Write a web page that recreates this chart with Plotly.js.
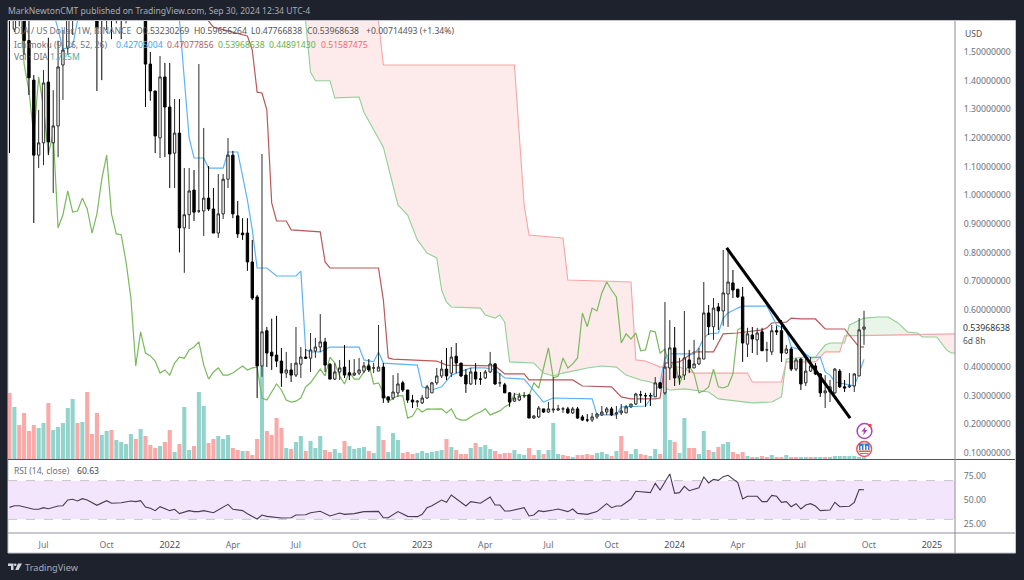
<!DOCTYPE html>
<html><head><meta charset="utf-8">
<script src="https://cdn.plot.ly/plotly-3.0.1.min.js"></script>
<style>html,body{margin:0;padding:0;background:#1e222d;overflow:hidden}#c{width:1024px;height:580px}</style>
</head><body><div id="c"></div>
<script>
var firstWeek = '2021-05-17';
var opens = [1.95,1.58,1.68,1.75,1.54,1.402,1.14,1.183,1.395,1.183,
1.242,1.455,1.514,1.7,1.9,1.85,1.95,1.8,1.75,1.8,
1.7,1.9,1.75,1.8,1.7,1.85,1.8,1.9,1.72,1.458,
1.364,1.2,1.413,1.308,1.147,1.217,.886,.932,1.018,.945,
.945,.99,.952,.868,.935,1.056,1.14,.928,.868,.868,
.767,.645,.404,.527,.452,.442,.421,.379,.39,.372,
.41,.435,.431,.456,.47,.488,.41,.358,.383,.4,
.38,.372,.379,.386,.404,.397,.386,.4,.296,.292,
.31,.345,.32,.285,.278,.275,.292,.31,.345,.369,
.393,.379,.438,.414,.372,.341,.383,.358,.362,.383,
.411,.345,.338,.31,.281,.285,.3,.303,.222,.226,
.254,.243,.25,.25,.254,.254,.24,.254,.226,.215,
.215,.226,.233,.243,.254,.236,.24,.24,.261,.271,
.303,.3,.3,.296,.345,.31,.397,.467,.362,.372,
.425,.397,.411,.428,.589,.541,.61,.596,.655,.694,
.672,.645,.48,.512,.495,.523,.46,.453,.527,.527,
.449,.463,.393,.428,.345,.386,.404,.376,.31,.313,
.31,.386,.331,.331,.334,.369,.53230269];
var closes = [1.70,1.75,1.95,1.54,1.41,1.14,1.183,1.392,1.186,1.242,
1.448,1.507,1.72,1.9,2.05,1.95,1.8,1.75,1.585,1.65,
1.85,1.75,1.8,1.7,1.85,1.8,1.9,1.72,1.458,1.364,
1.207,1.413,1.308,1.144,1.217,.886,.932,1.015,.941,.945,
.99,.952,.868,.935,1.056,1.14,.935,.865,.862,.767,
.641,.404,.523,.449,.439,.421,.379,.39,.372,.414,
.435,.431,.46,.47,.488,.407,.358,.383,.397,.372,
.372,.379,.39,.404,.39,.397,.4,.292,.285,.313,
.341,.32,.285,.278,.281,.292,.331,.345,.369,.393,
.369,.435,.414,.369,.341,.383,.358,.358,.383,.411,
.341,.345,.31,.278,.292,.299,.3,.222,.229,.257,
.243,.254,.253,.254,.254,.24,.254,.222,.215,.215,
.226,.236,.243,.254,.233,.24,.247,.261,.271,.306,
.303,.3,.3,.345,.327,.4,.467,.362,.369,.432,
.397,.411,.432,.589,.541,.606,.596,.659,.697,.669,
.645,.484,.516,.498,.519,.457,.46,.527,.523,.449,
.463,.393,.425,.341,.386,.404,.376,.31,.317,.331,
.393,.331,.327,.334,.376,.53,.53968638];
var highs = [2.2,1.9,2.0,1.9,1.62,1.42,1.298,1.437,1.55,1.367,
1.54,1.577,1.8,2.0,2.2,2.1,2.1,1.9,1.85,1.9,
2.0,2.0,1.9,1.9,2.0,2.0,2.0,2.0,1.9,1.5,
1.364,1.486,1.462,1.462,1.336,1.336,1.095,1.095,1.088,1.458,
1.235,1.102,1.025,1.074,1.074,1.2,1.155,.98,.92,.92,
.844,.652,1.144,.54,.569,.579,.467,.453,.414,.54,
.47,.463,.519,.502,.585,.502,.414,.414,.425,.477,
.425,.428,.432,.418,.428,.414,.547,.414,.296,.372,
.379,.352,.32,.303,.285,.303,.338,.348,.397,.425,
.467,.47,.484,.414,.393,.397,.414,.383,.39,.453,
.414,.379,.345,.313,.31,.31,.313,.303,.233,.264,
.254,.278,.365,.268,.261,.261,.261,.261,.233,.236,
.24,.24,.264,.261,.261,.264,.271,.268,.271,.31,
.317,.31,.31,.365,.348,.627,.564,.54,.432,.596,
.46,.495,.467,.697,.617,.641,.624,.809,.809,.739,
.672,.68,.537,.54,.537,.537,.488,.547,.544,.564,
.477,.47,.432,.432,.442,.435,.414,.379,.372,.355,
.397,.393,.355,.379,.379,.571,.59656264];
var lows = [1.147,1.57,1.59,1.49,1.35,.903,1.095,1.105,1.14,1.008,
1.133,1.333,1.49,1.56,1.65,1.62,1.7,1.7,1.364,1.402,
1.577,1.545,1.6,1.545,1.6,1.62,1.65,1.62,1.308,1.33,
1.147,1.13,1.133,1.025,1.025,.8,.729,.882,.91,.938,
.858,.945,.868,.851,.917,1.025,.92,.851,.844,.736,
.634,.292,.366,.4,.39,.4,.331,.362,.348,.365,
.362,.428,.383,.432,.452,.383,.358,.355,.355,.362,
.355,.369,.372,.379,.383,.379,.386,.275,.275,.285,
.296,.313,.275,.257,.261,.271,.289,.31,.338,.362,
.355,.365,.379,.365,.31,.338,.338,.338,.358,.379,
.338,.331,.31,.261,.278,.281,.292,.222,.219,.222,
.24,.24,.24,.247,.24,.236,.236,.219,.212,.208,
.208,.219,.229,.233,.229,.219,.233,.24,.257,.268,
.275,.261,.264,.296,.324,.303,.355,.334,.338,.355,
.379,.397,.407,.428,.512,.495,.53,.544,.54,.641,
.641,.418,.435,.449,.442,.457,.418,.442,.512,.418,
.445,.386,.386,.32,.334,.383,.372,.296,.257,.278,
.306,.327,.313,.327,.313,.369,.47766838];
var volumeM = [66,52,34,46,28,34,31,36,56,29,
32,36,51,60,36,37,67,25,46,24,
28,29,19,17,15,25,20,30,23,14,
11,13,17,29,7,15,52,9,13,67,
53,16,20,23,20,24,11,9,8,8,
4,20,93,28,24,41,31,11,10,17,
23,8,18,11,23,9,7,10,6,18,
13,10,11,12,8,6,33,19,7,26,
19,6,7,5,6,8,6,7,8,9,
20,12,9,5,5,11,16,12,14,10,
8,5,6,6,9,5,4,11,4,9,
5,9,36,5,4,3,2,4,4,5,
4,6,7,5,3,8,23,8,5,10,
5,4,3,10,5,71,19,17,6,41,
11,11,5,28,9,7,12,15,17,7,
5,7,3,2,2,3,2,4,2,2,
4,2,2,2,2,2,2,2,2,2,
3,3,3,3,3,2,1.725];
var volumeDir = 'rtrrrrttrt'+'ttttrtrrrt'+'trttttrtrr'+'rtrrtrttrt'+'trrtttrrtr'+'rrtrrrrtrt'+'trtttrrttr'+'ttttrttrtt'+'trrrtttttt'+'rtrrrtrttt'+'rrrrtttrrt'+'rtttrrtrrr'+'rtttrtrrtt'+'rrttrttrtt'+'rrttrtrttr'+'rrtrtrrtrr'+'trrttrttrt'+'ttttttt';

var conversionIdx = [0,8,9,10,11,13,14,15,33,34,35,36,37,38,40,41,44,45,47,49,50,51,53,55,59,60,61,62,64,66,72,73,75,76,77,84,85,87,89,91,95,98,100,102,106,110,112,120,121,125,126,131,133,134,135,136,141,142,143,144,146,147,148,150,151,156,158,160,161,163,165,167,168,169,170,173,174,175,176];
var conversionVal = [1.95,1.9,1.64,1.58,1.51,1.52,1.61,1.85,2.0,1.9,1.612,1.39,1.2,1.13,1.13,1.095,1.095,1.151,1.151,.983,.879,.746,.746,.718,.718,.735,.46,.453,.453,.47,.47,.425,.418,.453,.414,.407,.331,.32,.331,.372,.397,.397,.39,.362,.358,.278,.292,.289,.233,.233,.261,.264,.313,.345,.432,.446,.446,.467,.502,.516,.519,.571,.589,.606,.613,.613,.547,.53,.47,.46,.432,.435,.383,.372,.348,.338,.334,.379,.42705004];
var baseIdx = [30,41,42,49,50,51,52,53,54,55,57,58,64,65,66,76,77,78,79,88,90,100,102,106,107,116,118,124,126,128,133,134,135,138,141,145,147,150,155,156,157,160,161,163,166,168,172,175,176];
var baseVal = [2.0,1.608,1.587,1.556,1.507,1.36,1.357,1.298,.973,.91,.91,.879,.872,.767,.746,.746,.634,.432,.428,.421,.407,.404,.376,.376,.355,.355,.334,.331,.296,.289,.289,.292,.414,.418,.453,.453,.516,.519,.53,.537,.554,.557,.571,.568,.568,.533,.533,.47,.47077856];
var spanAIdx = [58,60,61,62,63,66,67,72,73,75,77,80,82,84,86,88,89,90,91,97,98,100,101,102,103,108,110,112,114,119,122,125,127,130,132,135,136,139,141,144,146,149,153,157,159,160,164,166,168,169,172,173,176,179,181,183,185,187,188,191,193,194,195];
var spanAVal = [2.4,1.9,1.605,1.43,1.4,1.4,1.34,1.343,1.29,1.228,1.168,.966,.931,.844,.798,.781,.669,.627,.61,.606,.582,.571,.582,.557,.418,.414,.379,.369,.379,.397,.404,.4,.372,.355,.348,.327,.32,.324,.32,.313,.289,.282,.275,.278,.296,.428,.435,.435,.477,.484,.484,.547,.571,.575,.575,.554,.522,.519,.505,.505,.46,.449,.44891430];
var spanBIdx = [58,76,77,104,106,107,114,115,128,129,131,134,138,141,152,153,159,160,166,168,171,172,195];
var spanBVal = [2.6,1.608,1.455,1.455,.966,.861,.851,.704,.697,.425,.421,.4,.4,.379,.379,.348,.348,.418,.418,.453,.453,.509,.51587475];
var rsiIdx = [0,1,2,3,5,6,7,8,9,10,11,12,13,14,15,16,18,19,20,21,23,25,26,27,28,29,30,31,33,34,35,37,38,39,40,42,45,46,48,49,51,52,53,56,58,59,61,62,64,66,68,69,71,73,76,77,78,80,82,84,85,86,87,89,90,91,94,95,97,99,100,101,102,103,105,106,107,108,109,110,112,113,115,116,117,119,121,123,124,125,126,128,129,132,133,134,136,137,138,139,140,142,143,144,145,146,147,148,150,151,152,154,155,156,157,158,159,160,161,162,163,164,165,166,167,169,170,171,173,174,175,176];
var rsiVal = [42.4,44.1,44.1,43.1,40.4,40.4,42.1,41,42.1,43.8,44.1,50,50.7,49,51.4,50,44.5,46.6,49.3,46.6,47.2,49,48.3,49.3,42.8,41.4,39,43.1,39,40.4,35.9,39,38,38,39,36.9,45.5,40.4,39,35.9,30.4,34.5,33.1,31.4,31.7,34.5,34.8,36.9,38.3,33.5,36.6,35.2,35.9,38,38.3,31.7,31.7,38,33.1,32.8,35.2,42.1,44.1,50,47.6,55.2,43.8,48.3,46.6,53.1,44.8,44.8,38.6,38.6,41.4,42.1,33.5,34.5,39,38,39.7,40.7,38,40.7,36.2,35.2,38,46.2,42.1,43.8,43.8,51,59,57.6,67.2,60.3,76.9,56.9,57.6,64.1,59.6,62.7,73.8,67.6,71.4,70.3,74.1,75.5,67.9,51,53.8,53.8,48.3,48.3,54.8,53.8,47.6,48.3,43.1,46.2,40.7,44.8,46.2,43.8,39,39.7,47.6,43.1,43.5,47.6,60.7,60.63];
var trendDates = ['2024-03-16','2024-09-10'];
var trendPrices = [0.816,0.222];
var priceTicks = [0.1,0.2,0.3,0.4,0.6,0.7,0.8,0.9,1.0,1.1,1.2,1.3,1.4,1.5];
var rsiTicks = [25,50,75];
var dateTicks = ['2021-07-05','2021-10-04','2022-01-03','2022-04-04','2022-07-04','2022-10-03','2023-01-02','2023-04-03','2023-07-03','2023-10-02','2024-01-01','2024-04-01','2024-07-01','2024-10-07','2025-01-06'];
var dateLabels = ['Jul','Oct','2022','Apr','Jul','Oct','2023','Apr','Jul','Oct','2024','Apr','Jul','Oct','2025'];
var clusterCross = [[159.84,0.407],[187.7,0.509]];

var FONT = '"Noto Sans", "Open Sans", sans-serif';
var W = 1024, H = 580, L = 8, R = 955, T = 21, B = 533;
function px(x){ return (x-L)/(R-L); }
function py(y){ return (B-y)/(B-T); }
function dateAt(i){
  var t = Date.parse(firstWeek+'T00:00:00Z') + i*7*86400000;
  return new Date(t).toISOString().slice(0,16).replace('T',' ');
}
function dates(idx){ return idx.map(dateAt); }
var allIdx = opens.map(function(_,i){return i;});
var weekDates = dates(allIdx);

function cloudPoly(lo, hi, pre, post){
  var xs = [], ys = [];
  if(pre){ xs.push(dateAt(pre[0])); ys.push(pre[1]); }
  spanAIdx.forEach(function(d,k){ if(d>=lo && d<=hi){ xs.push(dateAt(d)); ys.push(spanAVal[k]); } });
  if(post){ xs.push(dateAt(post[0])); ys.push(post[1]); }
  for(var k=spanBIdx.length-1;k>=0;k--){
    var d = spanBIdx[k];
    if(d>=lo && d<=hi){ xs.push(dateAt(d)); ys.push(spanBVal[k]); }
  }
  return {x:xs, y:ys};
}
var PINK = 'rgba(247,170,170,0.24)', GREEN = 'rgba(140,205,140,0.2)';
function cloudTrace(p, col){
  return {type:'scatter', mode:'lines', x:p.x, y:p.y, fill:'toself', fillcolor:col,
          line:{width:0,color:'rgba(0,0,0,0)'}, yaxis:'y2', hoverinfo:'skip', showlegend:false};
}
function lineTrace(x,y,col,w,axis){
  return {type:'scatter', mode:'lines', x:x, y:y, line:{color:col,width:w,shape:'linear'},
          yaxis:axis, hoverinfo:'skip', showlegend:false};
}
var lagIdx = [], lagVal = [];
closes.forEach(function(c,i){ if(i>=25){ lagIdx.push(i-25); lagVal.push(c); } });

var traces = [
  {type:'bar', x:weekDates, y:volumeM, width:7*86400000*0.84, yaxis:'y',
   marker:{color:volumeDir.split('').map(function(d){return d==='r'?'#f9a9a7':'#92d3cc';}), line:{width:0}},
   hoverinfo:'skip', showlegend:false},
  cloudTrace(cloudPoly(0,159,null,clusterCross[0]), PINK),
  cloudTrace(cloudPoly(160,187,clusterCross[0],clusterCross[1]), GREEN),
  cloudTrace(cloudPoly(188,195,clusterCross[1],null), PINK),
  lineTrace(dates(spanBIdx), spanBVal, '#f6a5a5', 1.1, 'y2'),
  lineTrace(dates(spanAIdx), spanAVal, '#93cf96', 1.1, 'y2'),
  lineTrace(dates(lagIdx), lagVal, '#7ab95e', 1.2, 'y2'),
  lineTrace(dates(baseIdx), baseVal, '#b9595a', 1.2, 'y2'),
  lineTrace(dates(conversionIdx), conversionVal, '#5db3f5', 1.2, 'y2'),
  {type:'candlestick', x:weekDates, open:opens, high:highs, low:lows, close:closes, yaxis:'y4',
   increasing:{line:{color:'#2b2b2b',width:1},fillcolor:'#ffffff'},
   decreasing:{line:{color:'#000000',width:1},fillcolor:'#000000'},
   hoverinfo:'skip', showlegend:false},
  {type:'scatter', mode:'lines', x:trendDates, y:trendPrices, yaxis:'y4',
   line:{color:'#000000',width:3}, hoverinfo:'skip', showlegend:false},
  lineTrace(dates(rsiIdx), rsiVal, '#473c52', 1.1, 'y3')
];

function txt(x,y,s,col,size,anchor){
  return {xref:'paper',yref:'paper',x:px(x),y:py(y),text:s,showarrow:false,
    xanchor:anchor||'left',yanchor:'middle',font:{family:FONT,size:size||8.6,color:col||'#787b86'},
    borderpad:0,borderwidth:0};
}
var GREY='#6d707b', LEG=8.6;
var annotations = [
  txt(7.5,11,'MarkNewtonCMT published on TradingView.com, Sep 30, 2024 12:34 UTC-4','#a9acb6',8.6),
  txt(14,31,'DIA / US Dollar, 1W, BINANCE',GREY,LEG),
  txt(136,31,'O0.53230269','#555',LEG),
  txt(194,31,'H0.59656264','#555',LEG),
  txt(251,31,'L0.47766838','#555',LEG),
  txt(307,31,'C0.53968638','#555',LEG),
  txt(366,31,'+0.00714493 (+1.34%)','#555',LEG),
  txt(14,44.5,'Ichimoku (9, 26, 52, 26)',GREY,LEG),
  txt(116,44.5,'0.42705004','#42a5f5',LEG),
  txt(167,44.5,'0.47077856','#b9595a',LEG),
  txt(218,44.5,'0.53968638','#66b04a',LEG),
  txt(269,44.5,'0.44891430','#66b04a',LEG),
  txt(321,44.5,'0.51587475','#f06a6a',LEG),
  txt(14,57,'Vol \u00b7 DIA',GREY,LEG),
  txt(50,57,'1.725M','#3fb5a8',LEG),
  txt(14,471,'RSI (14, close)',GREY,LEG),
  txt(77,471,'60.63','#444',LEG),
  txt(965,33,'USD','#555',8.5),
  txt(963,328,'0.53968638','#333',8.7),
  txt(963,340,'6d 8h','#555',8.5),
  txt(25,567,'TradingView','#a9acb6',9.2)
];
var LOGO='#d1d4dc';
function poly(pts){ return 'M '+pts.map(function(p){return px(p[0])+' '+py(p[1]);}).join(' L ')+' Z'; }
function rectPx(x0,y0,x1,y1,fill,line,lw,layer){
  return {type:'rect',xref:'paper',yref:'paper',x0:px(x0),x1:px(x1),y0:py(y0),y1:py(y1),
    fillcolor:fill,line:{color:line||'rgba(0,0,0,0)',width:lw||0},layer:layer||'above'};
}
function circlePx(cx,cy,r,fill,line,lw){
  return {type:'circle',xref:'paper',yref:'paper',x0:px(cx-r),x1:px(cx+r),y0:py(cy-r),y1:py(cy+r),
    fillcolor:fill,line:{color:line||'rgba(0,0,0,0)',width:lw||0},layer:'above'};
}
function pathPx(pts,fill){
  return {type:'path',xref:'paper',yref:'paper',path:poly(pts),fillcolor:fill,line:{width:0},layer:'above'};
}
var shapes = [
  rectPx(8,20.5,1015.5,553,'#ffffff','#c4c6cc',1,'below'),
  {type:'rect',xref:'paper',yref:'y3',x0:0,x1:1,y0:30,y1:70,fillcolor:'#f3e6fc',line:{width:0},layer:'below'},
  {type:'line',xref:'paper',yref:'y3',x0:0,x1:1,y0:70,y1:70,line:{color:'#c6c4cc',width:1,dash:'dash'},layer:'below'},
  {type:'line',xref:'paper',yref:'y3',x0:0,x1:1,y0:30,y1:30,line:{color:'#c6c4cc',width:1,dash:'dash'},layer:'below'},
  {type:'line',xref:'paper',yref:'paper',x0:px(8),x1:px(1015),y0:py(459.5),y1:py(459.5),line:{color:'#50535e',width:1},layer:'above'},
  {type:'line',xref:'paper',yref:'paper',x0:px(8),x1:px(1015),y0:py(533),y1:py(533),line:{color:'#b4b6bc',width:1.5},layer:'above'},
  {type:'line',xref:'paper',yref:'paper',x0:px(955),x1:px(955),y0:py(21),y1:py(553),line:{color:'#8a8d96',width:1},layer:'above'},
  pathPx([[8,563.5],[13.5,563.5],[13.5,570],[11,570],[11,566],[8,566]],LOGO),
  circlePx(15.2,564.8,1.3,LOGO),
  pathPx([[18,563.5],[22,563.5],[18.5,570],[15.2,570]],LOGO),
  circlePx(864.5,431,7.4,'#ffffff','#ab47bc',1.5),
  pathPx([[865.5,426.5],[861.5,431.5],[864,431.5],[863,435.5],[867.5,430],[865,430]],'#ab47bc'),
  circlePx(870,425.5,1.7,'#f44336'),
  circlePx(864.2,449,7.4,'#ffffff','#ef5350',1.5),
  rectPx(859,443.5,869.5,450,'#2f7fd6'),
  rectPx(860.5,446,862,450,'#ffffff'),
  rectPx(863.5,444.5,865,450,'#ffffff'),
  rectPx(866.5,446,868,450,'#ffffff'),
  rectPx(858.5,450.5,870,452,'#ef5350'),
  rectPx(860,453,868.5,454,'#ef5350')
];

var tickF = {family:FONT,size:8.7,color:'#6d707b'};
var mainBottom = (B-459)/(B-T);
var priceRange = [0.1-6/286.4, 0.1+432/286.4];
var layout = {
  width:W, height:H, autosize:false,
  margin:{l:L,r:W-R,t:T,b:H-B,pad:0},
  paper_bgcolor:'#1e222d', plot_bgcolor:'#ffffff',
  showlegend:false, dragmode:false, barmode:'overlay',
  xaxis:{type:'date',anchor:'y3',range:['2021-05-14 19:00','2025-02-08 05:00'],
    showgrid:false,zeroline:false,showline:false,
    tickmode:'array',tickvals:dateTicks,
    ticktext:dateLabels.map(function(t){return /^20/.test(t)?'<span style="color:#4a4d57;font-size:9px">'+t+'</span>':t;}),
    ticks:'outside',ticklen:4,tickcolor:'rgba(0,0,0,0)',tickfont:tickF,
    rangeslider:{visible:false},fixedrange:true},
  yaxis:{domain:[mainBottom,1],range:[0,438],visible:false,fixedrange:true,showgrid:false,zeroline:false},
  yaxis2:{overlaying:'y',side:'right',anchor:'x',range:priceRange,showgrid:false,zeroline:false,
    tickmode:'array',tickvals:priceTicks,ticktext:priceTicks.map(function(v){return v.toFixed(8);}),
    ticks:'outside',ticklen:6,tickcolor:'rgba(0,0,0,0)',tickfont:tickF,showline:false,fixedrange:true},
  yaxis4:{overlaying:'y',side:'right',anchor:'x',range:priceRange,visible:false,fixedrange:true,showgrid:false,zeroline:false},
  yaxis3:{domain:[0,(B-460)/(B-T)],side:'right',anchor:'x',range:[50-33/0.968,50+40/0.968],showgrid:false,zeroline:false,
    tickmode:'array',tickvals:rsiTicks,ticktext:rsiTicks.map(function(v){return v.toFixed(2);}),
    ticks:'outside',ticklen:6,tickcolor:'rgba(0,0,0,0)',tickfont:tickF,showline:false,fixedrange:true},
  shapes:shapes, annotations:annotations
};
Plotly.newPlot('c',traces,layout,{staticPlot:true,displayModeBar:false});
</script></body></html>
